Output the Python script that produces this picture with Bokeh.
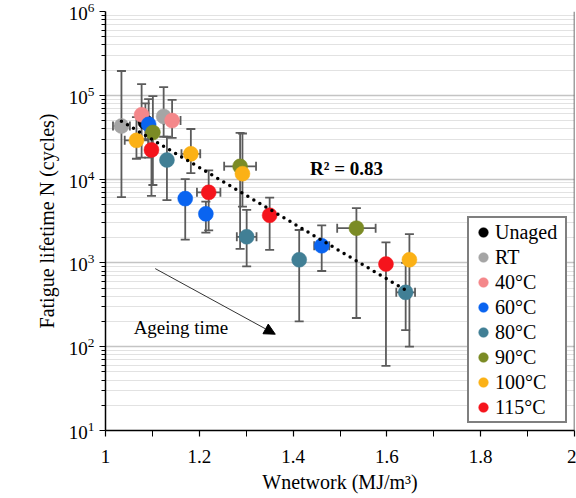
import numpy as np
from bokeh.plotting import figure
from bokeh.models import (ColumnDataSource, Whisker, TeeHead, Arrow, NormalHead, Label,
                          Legend, LegendItem, Span, FixedTicker, CustomJSTickFormatter)
from bokeh.embed import file_html
from bokeh.resources import INLINE

# ---------------- data ----------------
series_names = ["Unaged", "RT", "40°C", "60°C", "80°C", "90°C", "100°C", "115°C"]

unaged_w  = [1.085]
unaged_n  = [4.8e4]
unaged_lo = [3.0e4]
unaged_hi = [8.0e4]
unaged_xe = [0.0]

rt_w  = [1.034, 1.124]
rt_n  = [4.3e4, 5.6e4]
rt_lo = [6.1e3, 3.2e4]
rt_hi = [1.95e5, 1.25e5]
rt_xe = [0.018, 0.0]

c40_w  = [1.077, 1.142]
c40_n  = [5.85e4, 5.0e4]
c40_lo = [1.8e4, 3.1e4]
c40_hi = [1.36e5, 8.8e4]
c40_xe = [0.0, 0.018]

c60_w  = [1.092, 1.170, 1.214, 1.461]
c60_n  = [4.5e4, 5.85e3, 3.85e3, 1.6e3]
c60_lo = [1.8e4, 1.9e3, 2.3e3, 8.0e2]
c60_hi = [9.0e4, 1.0e4, 5.4e3, 2.8e3]
c60_xe = [0.0, 0.0, 0.0, 0.016]

c80_w  = [1.131, 1.301, 1.413, 1.640]
c80_n  = [1.69e4, 2.05e3, 1.09e3, 4.45e2]
c80_lo = [5.6e3, 9.1e2, 2.0e2, 1.58e2]
c80_hi = [3.2e4, 4.3e3, 2.47e3, 1.0e3]
c80_xe = [0.0, 0.021, 0.0, 0.02]

c90_w  = [1.101, 1.287, 1.535]
c90_n  = [3.6e4, 1.42e4, 2.6e3]
c90_lo = [8.5e3, 1.47e3, 2.2e2]
c90_hi = [9.8e4, 3.56e4, 4.5e3]
c90_xe = [0.0, 0.034, 0.041]

c100_w  = [1.066, 1.182, 1.292, 1.648]
c100_n  = [2.9e4, 2.0e4, 1.16e4, 1.09e3]
c100_lo = [1.75e4, 1.18e4, 4.7e3, 1.0e2]
c100_hi = [5.5e4, 3.96e4, 3.5e4, 2.2e3]
c100_xe = [0.025, 0.02, 0.0, 0.0]

c115_w  = [1.098, 1.220, 1.350, 1.598]
c115_n  = [2.23e4, 6.95e3, 3.7e3, 9.7e2]
c115_lo = [6.3e3, 2.45e3, 1.43e3, 59.0]
c115_hi = [4.0e4, 1.27e4, 6.0e3, 1.76e3]
c115_xe = [0.0, 0.025, 0.0, 0.0]

# exponential trend: log10(N) = intercept + slope * W
fit_intercept = 8.13
fit_slope = -3.326
r_squared = 0.83

x_ticks = [1.0, 1.2, 1.4, 1.6, 1.8, 2.0]
x_minor_ticks = [1.1, 1.3, 1.5, 1.7, 1.9]
y_ticks = [1e1, 1e2, 1e3, 1e4, 1e5, 1e6]

# ---------------- styles ----------------
colors = ["#000000", "#a5a5a5", "#f4878a", "#0a64f0", "#417f95", "#7b8b25", "#fbb116", "#f5141c"]
FONT = "Liberation Serif"
ERR = "#5b5b5b"

series = [
    (unaged_w, unaged_n, unaged_lo, unaged_hi, unaged_xe),
    (rt_w, rt_n, rt_lo, rt_hi, rt_xe),
    (c40_w, c40_n, c40_lo, c40_hi, c40_xe),
    (c60_w, c60_n, c60_lo, c60_hi, c60_xe),
    (c80_w, c80_n, c80_lo, c80_hi, c80_xe),
    (c90_w, c90_n, c90_lo, c90_hi, c90_xe),
    (c100_w, c100_n, c100_lo, c100_hi, c100_xe),
    (c115_w, c115_n, c115_lo, c115_hi, c115_xe),
]

p = figure(width=576, height=498, y_axis_type="log", x_range=(1, 2), y_range=(10, 1e6),
           output_backend="svg", toolbar_location=None,
           min_border_left=105, min_border_right=2, min_border_top=11, min_border_bottom=68)
p.outline_line_color = None
p.background_fill_color = "white"

# grids
p.xgrid.grid_line_color = None
p.ygrid.grid_line_color = "#c4c4c4"
p.ygrid.grid_line_width = 1.5
p.ygrid.minor_grid_line_color = "#e2e2e2"
p.ygrid.minor_grid_line_width = 1.2

# axes
minor_y = [m * 10 ** k for k in range(1, 6) for m in range(2, 10)]
p.yaxis.ticker = FixedTicker(ticks=y_ticks, minor_ticks=minor_y)
p.ygrid.ticker = p.yaxis.ticker
p.xaxis.ticker = FixedTicker(ticks=x_ticks, minor_ticks=x_minor_ticks)
p.xaxis.formatter = CustomJSTickFormatter(code="return String(Math.round(tick*10)/10);")

for ax in (p.xaxis, p.yaxis):
    ax.axis_line_color = "black"
    ax.axis_line_width = 1.5
    ax.major_tick_line_color = "black"
    ax.minor_tick_line_color = "black"
    ax.major_tick_line_width = 1.2
    ax.minor_tick_line_width = 1.0
    ax.major_label_text_font = FONT
    ax.major_label_text_font_size = "19px"
    ax.major_label_text_color = "black"
    ax.axis_label_text_font = FONT
    ax.axis_label_text_font_size = "20px"
    ax.axis_label_text_font_style = "normal"
    ax.axis_label_text_color = "black"

p.xaxis.major_tick_in = 0
p.xaxis.major_tick_out = 6
p.xaxis.minor_tick_in = 0
p.xaxis.minor_tick_out = 6
p.xaxis.major_label_standoff = 13
p.xaxis.axis_label_standoff = 5
p.xaxis.axis_label = "Wnetwork (MJ/m³)"

p.yaxis.major_tick_in = 0
p.yaxis.major_tick_out = 6
p.yaxis.minor_tick_in = 0
p.yaxis.minor_tick_out = 4
p.yaxis.major_label_standoff = 5
p.yaxis.axis_label_standoff = 8
p.yaxis.axis_label = "Fatigue lifetime N (cycles)"

p.add_layout(Span(location=2, dimension="height", line_color="#404040", line_width=1.5))

# error bars (all series, drawn beneath markers)
all_w = np.concatenate([np.array(s[0], float) for s in series])
all_n = np.concatenate([np.array(s[1], float) for s in series])
all_lo = np.concatenate([np.array(s[2], float) for s in series])
all_hi = np.concatenate([np.array(s[3], float) for s in series])
all_xe = np.concatenate([np.array(s[4], float) for s in series])

vsrc = ColumnDataSource(dict(w=all_w, lo=all_lo, hi=all_hi))
p.add_layout(Whisker(source=vsrc, base="w", lower="lo", upper="hi", dimension="height",
                     line_color=ERR, line_width=1.8,
                     upper_head=TeeHead(size=9, line_color=ERR, line_width=1.8),
                     lower_head=TeeHead(size=9, line_color=ERR, line_width=1.8)))

mask = all_xe > 0
hsrc = ColumnDataSource(dict(n=all_n[mask], lo=all_w[mask] - all_xe[mask], hi=all_w[mask] + all_xe[mask]))
p.add_layout(Whisker(source=hsrc, base="n", lower="lo", upper="hi", dimension="width",
                     line_color=ERR, line_width=1.8,
                     upper_head=TeeHead(size=9, line_color=ERR, line_width=1.8),
                     lower_head=TeeHead(size=9, line_color=ERR, line_width=1.8)))

# markers
items = []
for name, col, s in zip(series_names, colors, series):
    src = ColumnDataSource(dict(w=s[0], n=s[1]))
    r = p.scatter("w", "n", source=src, size=15, marker="circle",
                  fill_color=col, line_color=col, line_width=0.5)
    items.append(LegendItem(label=name, renderers=[r]))

# trend line over the full data range
w_min, w_max = float(all_w.min()), float(all_w.max())
tw = np.linspace(w_min, w_max, 60)
tn = 10 ** (fit_intercept + fit_slope * tw)
p.line(tw, tn, line_color="black", line_width=3.5, line_dash="0 7", line_cap="round")

p.add_layout(Label(x=1.436, y=1.34e4, text=f"R² = {r_squared:.2f}", text_font=FONT,
                   text_font_style="bold", text_font_size="19px", text_baseline="middle",
                   text_color="black"))

# ageing arrow
p.add_layout(Arrow(x_start=1.106, y_start=855, x_end=1.362, y_end=141,
                   line_color="#333333", line_width=1,
                   end=NormalHead(size=11, fill_color="black", line_color="black", line_width=1)))
p.add_layout(Label(x=1.06, y=170, text="Ageing time", text_font=FONT, text_font_size="19px",
                   text_baseline="middle", text_color="black"))

legend = Legend(items=items, location="bottom_right")
legend.margin = 7
legend.padding = 2
legend.spacing = 1
legend.glyph_width = 24
legend.glyph_height = 24
legend.label_height = 22
legend.label_width = 68
legend.label_standoff = 0
legend.label_text_font = FONT
legend.label_text_font_size = "20px"
legend.label_text_color = "black"
legend.border_line_color = "black"
legend.border_line_width = 2
legend.background_fill_color = "white"
legend.background_fill_alpha = 1.0
p.add_layout(legend)

open("out.html", "w").write(file_html(p, INLINE))
